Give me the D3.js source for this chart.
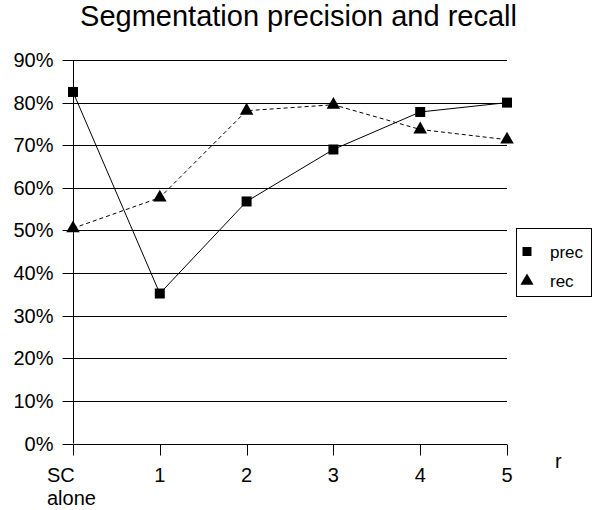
<!DOCTYPE html>
<html lang="en">
<head>
  <meta charset="UTF-8">
  <title>Segmentation precision and recall</title>
  <script src="https://d3js.org/d3.v7.min.js"></script>
  <style>
    body {
      margin: 0;
      background: #fff;
      font-family: "Liberation Sans", Arial, sans-serif;
    }
    svg text {
      fill: #000;
    }
  </style>
</head>
<body>
  <div id="chart"></div>

  <script>
    // data
    const categories = ["SC alone", "1", "2", "3", "4", "5"];
    const prec = [0.825, 0.352, 0.568, 0.690, 0.778, 0.800];
    const rec = [0.505, 0.577, 0.781, 0.795, 0.737, 0.713];
    const yTicks = [0, 0.1, 0.2, 0.3, 0.4, 0.5, 0.6, 0.7, 0.8, 0.9];

    const w = 593;
    const h = 510;
    const plotLeft = 73, plotRight = 507, plotTop = 60, plotBottom = 443.5;

    const svg = d3.select("#chart")
                  .append("svg")
                  .attr("width", w)
                  .attr("height", h);

    const xScale = d3.scalePoint()
                     .domain(categories)
                     .range([plotLeft, plotRight]);

    const yScale = d3.scaleLinear()
                     .domain([0, 0.9])
                     .range([plotBottom, plotTop]);

    // title
    svg.append("text")
       .attr("x", 298.5)
       .attr("y", 26)
       .attr("text-anchor", "middle")
       .style("font-size", "29px")
       .text("Segmentation precision and recall");

    // gridlines
    svg.append("g")
       .selectAll("line")
       .data(yTicks)
       .enter()
       .append("line")
       .attr("x1", plotLeft)
       .attr("x2", plotRight)
       .attr("y1", d => Math.round(yScale(d)) + 0.5)
       .attr("y2", d => Math.round(yScale(d)) + 0.5)
       .attr("stroke", "#000")
       .attr("stroke-width", 1);

    // y axis
    const yAxis = d3.axisLeft(yScale)
                    .tickValues(yTicks)
                    .tickFormat(d3.format(".0%"))
                    .tickSize(11)
                    .tickPadding(9)
                    .offset(0);

    const gy = svg.append("g")
       .attr("transform", `translate(${plotLeft + 0.5}, 0)`)
       .call(yAxis);
    gy.select(".domain").remove();
    gy.selectAll(".tick").attr("transform", d => `translate(0, ${Math.round(yScale(d)) + 0.5})`);
    gy.selectAll("text")
      .style("font-size", "20px")
      .style("font-family", "'Liberation Sans', Arial, sans-serif")
      .attr("fill", "#000");
    gy.selectAll("line").attr("stroke", "#000");

    // y axis line
    svg.append("line")
       .attr("x1", plotLeft + 0.5)
       .attr("x2", plotLeft + 0.5)
       .attr("y1", plotTop)
       .attr("y2", plotBottom)
       .attr("stroke", "#000");

    // x axis
    const xAxis = d3.axisBottom(xScale)
                    .tickSize(11)
                    .tickSizeOuter(0)
                    .tickFormat("")
                    .offset(0);

    const gx = svg.append("g")
       .attr("transform", `translate(0, ${Math.round(plotBottom) + 0.5})`)
       .call(xAxis);
    gx.selectAll(".tick").attr("transform", d => `translate(${Math.round(xScale(d)) + 0.5}, 0)`);
    gx.select(".domain").attr("stroke", "#000");
    gx.selectAll("line").attr("stroke", "#000");

    // x labels
    const xLabels = svg.append("g")
       .style("font-size", "20px");
    categories.forEach(c => {
      if (c === "SC alone") {
        const t = xLabels.append("text");
        t.append("tspan").attr("x", xScale(c) - 26).attr("y", 482).text("SC");
        t.append("tspan").attr("x", xScale(c) - 26).attr("y", 505).text("alone");
      } else {
        xLabels.append("text")
           .attr("x", xScale(c))
           .attr("y", 482)
           .attr("text-anchor", "middle")
           .text(c);
      }
    });

    svg.append("text")
       .attr("x", 555)
       .attr("y", 468)
       .style("font-size", "20px")
       .text("r");

    // lines
    const line = d3.line()
                   .x((d, i) => xScale(categories[i]))
                   .y(d => yScale(d));

    svg.append("path")
       .datum(rec)
       .attr("d", line)
       .attr("fill", "none")
       .attr("stroke", "#000")
       .attr("stroke-width", 1)
       .attr("stroke-dasharray", "4,3");

    svg.append("path")
       .datum(prec)
       .attr("d", line)
       .attr("fill", "none")
       .attr("stroke", "#000")
       .attr("stroke-width", 1);

    const square = d3.symbol().type(d3.symbolSquare).size(100);
    const triangle = d3.symbol().type(d3.symbolTriangle).size(80);

    svg.selectAll(".rec")
       .data(rec)
       .enter()
       .append("path")
       .attr("class", "rec")
       .attr("d", triangle)
       .attr("transform", (d, i) => `translate(${xScale(categories[i])}, ${yScale(d)})`)
       .attr("fill", "#000");

    svg.selectAll(".prec")
       .data(prec)
       .enter()
       .append("path")
       .attr("class", "prec")
       .attr("d", square)
       .attr("transform", (d, i) => `translate(${xScale(categories[i])}, ${yScale(d)})`)
       .attr("fill", "#000");

    // legend
    const legend = svg.append("g");
    legend.append("rect")
       .attr("x", 516.5)
       .attr("y", 228.5)
       .attr("width", 75)
       .attr("height", 68)
       .attr("fill", "#fff")
       .attr("stroke", "#000");
    legend.append("path")
       .attr("d", d3.symbol().type(d3.symbolSquare).size(81))
       .attr("transform", "translate(527, 251.5)");
    legend.append("text")
       .attr("x", 550)
       .attr("y", 258)
       .style("font-size", "17px")
       .text("prec");
    legend.append("path")
       .attr("d", d3.symbol().type(d3.symbolTriangle).size(75))
       .attr("transform", "translate(527, 281)");
    legend.append("text")
       .attr("x", 550)
       .attr("y", 287)
       .style("font-size", "17px")
       .text("rec");
  </script>
</body>
</html>
